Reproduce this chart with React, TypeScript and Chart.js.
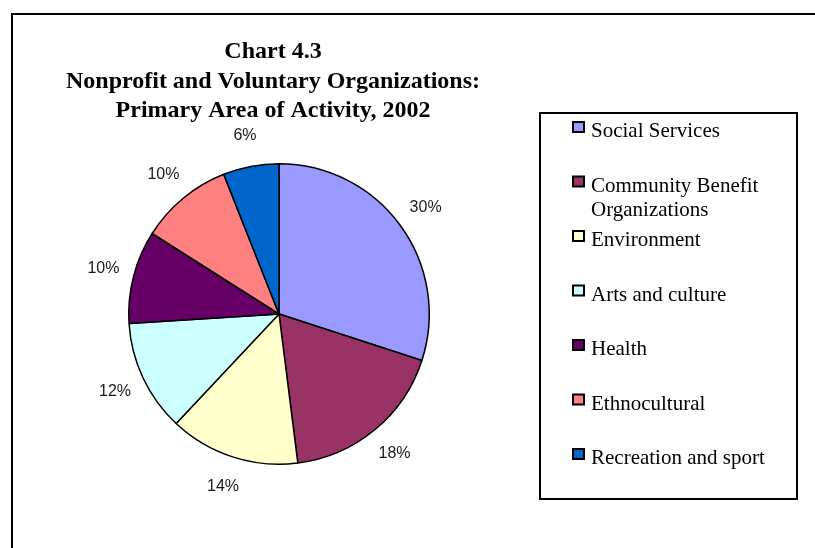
import React, { useEffect, useRef } from "react";
import { Chart, registerables } from "chart.js";

Chart.register(...registerables);

const categories = [
  "Social Services",
  "Community Benefit Organizations",
  "Environment",
  "Arts and culture",
  "Health",
  "Ethnocultural",
  "Recreation and sport",
];
const shares = [30, 18, 14, 12, 10, 10, 6];
const colors = ["#9999FF", "#993366", "#FFFFCC", "#CCFFFF", "#660066", "#FF8080", "#0066CC"];
const titleLines = [
  "Chart 4.3",
  "Nonprofit and Voluntary Organizations:",
  "Primary Area of Activity, 2002",
];

function wrap(ctx: CanvasRenderingContext2D, text: string, maxW: number): string[] {
  const words = text.split(" ");
  const lines: string[] = [];
  let cur = "";
  for (const w of words) {
    const t = cur ? cur + " " + w : w;
    if (ctx.measureText(t).width > maxW && cur) {
      lines.push(cur);
      cur = w;
    } else cur = t;
  }
  if (cur) lines.push(cur);
  return lines;
}

const decor = {
  id: "decor",
  beforeDraw(chart: any) {
    const ctx = chart.ctx as CanvasRenderingContext2D;
    ctx.save();
    ctx.fillStyle = "#ffffff";
    ctx.fillRect(0, 0, chart.width, chart.height);
    ctx.strokeStyle = "#000";
    ctx.lineWidth = 2;
    ctx.strokeRect(12, 14, 900, 700);
    ctx.fillStyle = "#000";
    ctx.font = "bold 24px 'Liberation Serif', 'Times New Roman', serif";
    ctx.textAlign = "center";
    ctx.textBaseline = "alphabetic";
    titleLines.forEach((t, i) => ctx.fillText(t, 273, 58 + i * 29.5));
    ctx.restore();
  },
  afterDatasetsDraw(chart: any) {
    const ctx = chart.ctx as CanvasRenderingContext2D;
    const meta = chart.getDatasetMeta(0);
    const data = chart.data.datasets[0].data as number[];
    const total = data.reduce((a, b) => a + b, 0);
    ctx.save();
    ctx.fillStyle = "#1a1a1a";
    ctx.font = "16px 'Liberation Sans', Arial, sans-serif";
    ctx.textAlign = "center";
    ctx.textBaseline = "middle";
    meta.data.forEach((arc: any, i: number) => {
      const p = arc.getProps(["x", "y", "startAngle", "endAngle", "outerRadius"], true);
      const mid = (p.startAngle + p.endAngle) / 2;
      const r = p.outerRadius + 31;
      const pct = Math.round((data[i] / total) * 100) + "%";
      ctx.fillText(pct, p.x + Math.cos(mid) * r, p.y + Math.sin(mid) * r);
    });
    ctx.restore();
  },
  afterDraw(chart: any) {
    const ctx = chart.ctx as CanvasRenderingContext2D;
    const labels = chart.data.labels as string[];
    const bg = chart.data.datasets[0].backgroundColor as string[];
    ctx.save();
    ctx.strokeStyle = "#000";
    ctx.lineWidth = 2;
    ctx.strokeRect(540, 113, 257, 386);
    ctx.font = "21px 'Liberation Serif', 'Times New Roman', serif";
    ctx.textAlign = "left";
    ctx.textBaseline = "alphabetic";
    labels.forEach((lab, i) => {
      const base = 137 + i * 54.5;
      ctx.fillStyle = bg[i];
      ctx.fillRect(573, base - 15, 11, 10);
      ctx.lineWidth = 2;
      ctx.strokeStyle = "#000";
      ctx.strokeRect(573, base - 15, 11, 10);
      ctx.fillStyle = "#000";
      wrap(ctx, lab, 195).forEach((ln, j) => ctx.fillText(ln, 591, base + j * 24));
    });
    ctx.restore();
  },
};

export default function App() {
  const ref = useRef<HTMLCanvasElement | null>(null);
  useEffect(() => {
    if (!ref.current) return;
    const chart = new Chart(ref.current, {
      type: "pie",
      data: {
        labels: categories,
        datasets: [
          {
            data: shares,
            backgroundColor: colors,
            borderColor: "#000",
            borderWidth: 1.5,
          },
        ],
      },
      options: {
        responsive: false,
        animation: false,
        events: [],
        layout: { padding: { left: 128, right: 385, top: 163, bottom: 83 } },
        plugins: {
          legend: { display: false },
          title: { display: false },
          tooltip: { enabled: false },
        },
      },
      plugins: [decor],
    });
    return () => chart.destroy();
  }, []);
  return (
    <div style={{ position: "absolute", left: 0, top: 0, width: 815, height: 548 }}>
      <canvas ref={ref} width={815} height={548} style={{ width: 815, height: 548, display: "block" }} />
    </div>
  );
}
